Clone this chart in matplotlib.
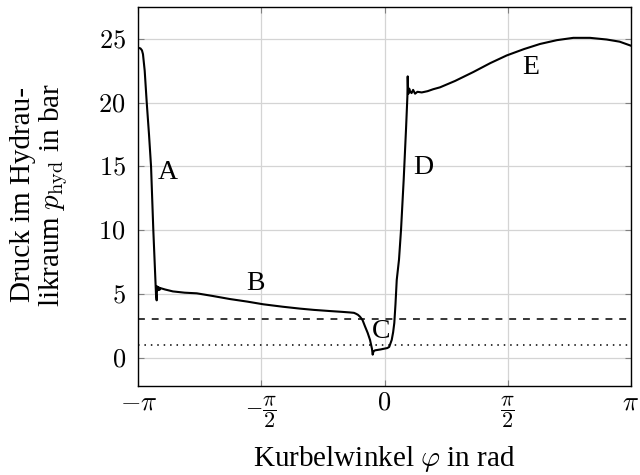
import numpy as np
import matplotlib
matplotlib.use("Agg")
import matplotlib.pyplot as plt

plt.rcParams["mathtext.fontset"] = "cm"
plt.rcParams["font.family"] = ["Liberation Serif", "DejaVu Serif"]

# Kurbelwinkel (rad) und Druck im Hydraulikraum (bar)
phi = [-3.1416, -3.114, -3.095, -3.082, -3.06, -3.034, -3.005, -2.979, -2.950,
       -2.916, -2.907, -2.903, -2.897, -2.890, -2.882, -2.874, -2.866, -2.855,
       -2.80, -2.70, -2.55, -2.396, -2.20, -1.971, -1.75, -1.547, -1.30, -1.078,
       -0.90, -0.695, -0.55, -0.440, -0.390, -0.364, -0.340, -0.313, -0.280,
       -0.249, -0.215, -0.185, -0.160, -0.151, -0.140, -0.121, -0.05, 0.036,
       0.060, 0.092, 0.110, 0.125, 0.140, 0.156, 0.185, 0.211, 0.245, 0.275,
       0.292, 0.296, 0.300, 0.305, 0.315, 0.325, 0.345, 0.365, 0.390, 0.420,
       0.475, 0.55, 0.62, 0.708, 0.90, 1.133, 1.35, 1.559, 1.78, 1.984, 2.20,
       2.409, 2.622, 2.835, 3.00, 3.1416]
p_hyd = [24.3, 24.25, 24.1, 23.8, 22.5, 20.0, 17.5, 15.0, 10.0,
         5.0, 4.5, 5.6, 5.3, 5.55, 5.3, 5.5, 5.35, 5.45,
         5.35, 5.2, 5.1, 5.05, 4.85, 4.6, 4.4, 4.19, 4.0, 3.85,
         3.75, 3.66, 3.6, 3.55, 3.52, 3.45, 3.37, 3.22, 2.95,
         2.46, 1.95, 1.4, 0.7, 0.24, 0.5, 0.58, 0.65, 0.76,
         0.85, 1.4, 2.0, 2.73, 4.2, 6.1, 7.7, 10.06, 14.0, 18.0,
         20.5, 22.06, 21.2, 20.7, 21.1, 20.9, 20.75, 21.0, 20.7, 20.85,
         20.8, 20.9, 21.05, 21.2, 21.7, 22.4, 23.1, 23.7, 24.2, 24.6, 24.9,
         25.08, 25.08, 24.95, 24.78, 24.47]

p_upper = 3.0   # gestrichelte Grenze
p_lower = 1.0   # gepunktete Grenze

x_ticks = [-np.pi, -np.pi / 2, 0, np.pi / 2, np.pi]
x_ticklabels = [r"$-\pi$", r"$-\dfrac{\pi}{2}$", r"$0$", r"$\dfrac{\pi}{2}$", r"$\pi$"]
y_ticks = [0, 5, 10, 15, 20, 25]
y_ticklabels = ["$0$", "$5$", "$10$", "$15$", "$20$", "$25$"]

phase_labels = ["A", "B", "C", "D", "E"]
phase_x = [-2.763, -1.641, -0.045, 0.491, 1.869]
phase_y = [14.56, 5.85, 2.09, 14.88, 22.75]

fig = plt.figure(figsize=(6.4, 4.75), dpi=100)
ax = fig.add_axes([0.2161, 0.1878, 0.7694, 0.7975])

ax.grid(True, color="#d4d4d4", linewidth=0.9, zorder=0)
ax.axhline(p_upper, color="black", linestyle=(0, (4.5, 4.5)), linewidth=1.1, zorder=2)
ax.axhline(p_lower, color="black", linestyle=(0, (1.0, 3.2)), linewidth=1.1, zorder=2)
ax.plot(phi, p_hyd, color="black", linewidth=1.5, zorder=3)

for lab, lx, ly in zip(phase_labels, phase_x, phase_y):
    ax.text(lx, ly, lab, fontsize=20, ha="center", va="center", zorder=4)

ax.set_xlim(-np.pi, np.pi)
ax.set_ylim(-2.2, 27.5)
ax.set_xticks(x_ticks)
ax.set_xticklabels(x_ticklabels, fontsize=19)
for i in (1, 3):
    ax.get_xticklabels()[i].set_fontsize(16)
ax.set_yticks(y_ticks)
ax.set_yticklabels(y_ticklabels, fontsize=19)
ax.tick_params(direction="in", length=4, width=0.8, color="0.5",
               top=True, right=True)
ax.tick_params(axis="x", pad=5)
ax.tick_params(axis="y", pad=9)

for s in ax.spines.values():
    s.set_linewidth(1.0)

ax.set_xlabel(r"Kurbelwinkel $\varphi$ in rad", fontsize=21)
ax.xaxis.label.set_va("baseline")
ax.xaxis.set_label_coords(0.5, -0.2117)

ax.set_ylabel("Druck im Hydrau-\nlikraum $p_{\\mathrm{hyd}}$ in bar",
              fontsize=21, linespacing=1.05)
ax.yaxis.label.set_va("center")
ax.yaxis.set_label_coords(-0.1996, 0.5037)

fig.savefig("out.png", dpi=100)
